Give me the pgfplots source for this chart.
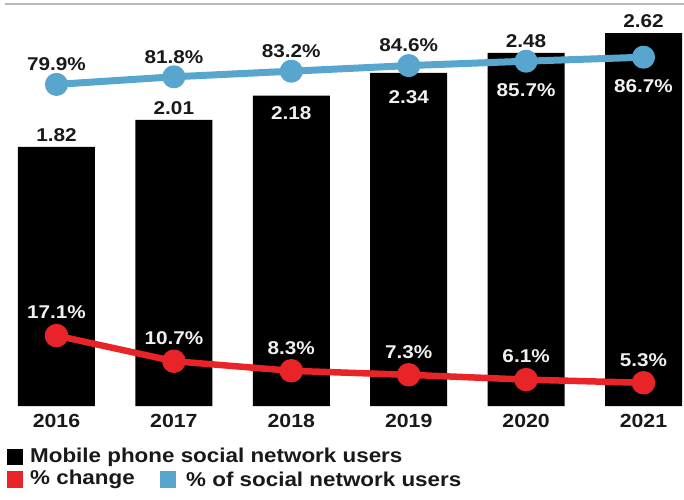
\documentclass[border=0pt]{standalone}
\usepackage{fontspec}
\setmainfont{Liberation Sans}
\newfontfamily\labfont[FakeStretch=1.12]{Liberation Sans}
\usepackage{pgfplots}
\pgfplotsset{compat=1.18}
\definecolor{cblue}{RGB}{88,166,205}
\definecolor{cred}{RGB}{233,36,40}
\definecolor{txt}{RGB}{25,25,25}
\definecolor{wtxt}{RGB}{240,240,240}
\newcommand{\lf}{\labfont\bfseries\fontsize{18.5}{18.5}\selectfont}
\begin{document}
\begin{tikzpicture}
\path[use as bounding box] (0pt,0pt) rectangle (684pt,499pt);
\pgfplotsset{base/.style={at={(0pt,93pt)},anchor=south west,scale only axis,
  width=684pt,height=406pt,xmin=-0.481,xmax=5.345,clip=false,
  axis line style={draw=none},ytick=\empty}}
\begin{axis}[base, ymin=0, ymax=2.852,
  xtick={0,1,2,3,4,5}, xticklabels={2016,2017,2018,2019,2020,2021},
  major tick length=0pt,
  xticklabel style={font=\labfont\bfseries\fontsize{19}{19}\selectfont, text=txt, anchor=center, yshift=-15pt}]
\addplot[ybar, bar width=77pt, fill=black, draw=none] coordinates {(0,1.82)(1,2.01)(2,2.18)(3,2.34)(4,2.48)(5,2.62)};
\addplot[draw=none, mark=none,
  nodes near coords={\pgfmathprintnumber[fixed,precision=2,fixed zerofill,assume math mode=true]{\pgfplotspointmeta}},
  nodes near coords style={font=\lf, text=txt, anchor=center, yshift=12pt}]
  coordinates {(0,1.82)(1,2.01)(4,2.48)(5,2.62)};
\addplot[draw=none, mark=none,
  nodes near coords={\pgfmathprintnumber[fixed,precision=2,fixed zerofill,assume math mode=true]{\pgfplotspointmeta}},
  nodes near coords style={font=\lf, text=wtxt, anchor=center, yshift=-17pt}]
  coordinates {(2,2.18)};
\addplot[draw=none, mark=none,
  nodes near coords={\pgfmathprintnumber[fixed,precision=2,fixed zerofill,assume math mode=true]{\pgfplotspointmeta}},
  nodes near coords style={font=\lf, text=wtxt, anchor=center, yshift=-24pt}]
  coordinates {(3,2.34)};
\end{axis}
\begin{axis}[base, ymin=-0.5, ymax=101, xtick=\empty]
\addplot[cblue, line width=7pt, line join=round, mark=*, mark size=8pt, mark options={fill=cblue, draw=none}]
  coordinates {(0,79.9)(1,81.8)(2,83.2)(3,84.6)(4,85.7)(5,86.7)};
\addplot[cred, line width=6.5pt, line join=round, mark=*, mark size=8.5pt, mark options={fill=cred, draw=none}]
  coordinates {(0,17.1)(1,10.7)(2,8.3)(3,7.3)(4,6.1)(5,5.3)};
\addplot[draw=none, mark=none,
  nodes near coords={\pgfmathprintnumber[fixed,precision=1,fixed zerofill,assume math mode=true]{\pgfplotspointmeta}\%},
  nodes near coords style={font=\lf, text=txt, anchor=center, yshift=20pt}]
  coordinates {(0,79.9)(1,81.8)(2,83.2)(3,84.6)};
\addplot[draw=none, mark=none,
  nodes near coords={\pgfmathprintnumber[fixed,precision=1,fixed zerofill,assume math mode=true]{\pgfplotspointmeta}\%},
  nodes near coords style={font=\lf, text=wtxt, anchor=center, yshift=-29pt}]
  coordinates {(4,85.7)(5,86.7)};
\addplot[draw=none, mark=none,
  nodes near coords={\pgfmathprintnumber[fixed,precision=1,fixed zerofill,assume math mode=true]{\pgfplotspointmeta}\%},
  nodes near coords style={font=\lf, text=wtxt, anchor=center, yshift=23pt}]
  coordinates {(0,17.1)(1,10.7)(2,8.3)(3,7.3)(4,6.1)(5,5.3)};
\end{axis}
\draw[gray!55, line width=2pt] (5pt,495pt) -- (684pt,495pt);
\fill[black] (7pt,34pt) rectangle (23pt,50pt);
\node[anchor=west, inner sep=0pt, font=\labfont\bfseries\fontsize{20}{20}\selectfont, text=txt] at (30pt,42pt) {Mobile phone social network users};
\fill[cred] (7pt,11pt) rectangle (23pt,28pt);
\node[anchor=west, inner sep=0pt, font=\labfont\bfseries\fontsize{20}{20}\selectfont, text=txt] at (30pt,20pt) {\% change};
\fill[cblue] (160pt,11pt) rectangle (176pt,28pt);
\node[anchor=west, inner sep=0pt, font=\labfont\bfseries\fontsize{20}{20}\selectfont, text=txt] at (186pt,20pt) {\% of social network users};
\end{tikzpicture}
\end{document}
